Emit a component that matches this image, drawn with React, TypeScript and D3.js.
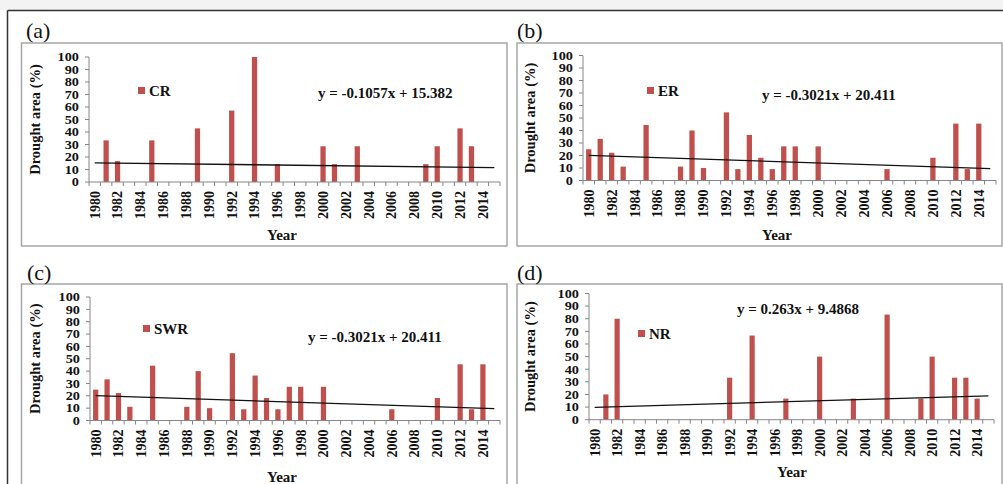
import React from 'react';
import * as d3 from 'd3';

const years = [
  1980, 1981, 1982, 1983, 1984, 1985, 1986, 1987, 1988, 1989, 1990, 1991,
  1992, 1993, 1994, 1995, 1996, 1997, 1998, 1999, 2000, 2001, 2002, 2003,
  2004, 2005, 2006, 2007, 2008, 2009, 2010, 2011, 2012, 2013, 2014, 2015,
];
const yTicks = [0, 10, 20, 30, 40, 50, 60, 70, 80, 90, 100];

// drought area (%) per year, 0 = no drought
const crValues = [
  0, 33.3, 16.7, 0, 0, 33.3, 0, 0, 0, 42.9, 0, 0,
  57.1, 0, 100, 0, 14.3, 0, 0, 0, 28.6, 14.3, 0, 28.6,
  0, 0, 0, 0, 0, 14.3, 28.6, 0, 42.9, 28.6, 0, 0,
];
const erValues = [
  25, 33.3, 22.2, 11.1, 0, 44.4, 0, 0, 11.1, 40, 10, 0,
  54.5, 9.1, 36.4, 18.2, 9.1, 27.3, 27.3, 0, 27.3, 0, 0, 0,
  0, 0, 9.1, 0, 0, 0, 18.2, 0, 45.5, 9.1, 45.5, 0,
];
const swrValues = [
  25, 33.3, 22.2, 11.1, 0, 44.4, 0, 0, 11.1, 40, 10, 0,
  54.5, 9.1, 36.4, 18.2, 9.1, 27.3, 27.3, 0, 27.3, 0, 0, 0,
  0, 0, 9.1, 0, 0, 0, 18.2, 0, 45.5, 9.1, 45.5, 0,
];
const nrValues = [
  0, 20, 80, 0, 0, 0, 0, 0, 0, 0, 0, 0,
  33.3, 0, 66.7, 0, 0, 16.7, 0, 0, 50, 0, 0, 16.7,
  0, 0, 83.3, 0, 0, 16.7, 50, 0, 33.3, 33.3, 16.7, 0,
];

const regionNames = ['CR', 'ER', 'SWR', 'NR'];
const panelTags = ['(a)', '(b)', '(c)', '(d)'];
const trendSlopes = [-0.1057, -0.3021, -0.3021, 0.263];
const trendIntercepts = [15.382, 20.411, 20.411, 9.4868];
const equations = [
  'y = -0.1057x + 15.382',
  'y = -0.3021x + 20.411',
  'y = -0.3021x + 20.411',
  'y = 0.263x + 9.4868',
];
const seriesValues = [crValues, erValues, swrValues, nrValues];

// layout of each panel on the page
const layouts = [
  { box: [21.5, 43, 485.5, 203], tag: [26, 38], plot: [89, 500, 57, 182], legend: [138, 87], eq: [318, 93], yTitleX: 35, year: [282, 240] },
  { box: [517, 43, 485, 203], tag: [517, 38], plot: [583, 996, 55.5, 180.5], legend: [647, 87], eq: [762, 95], yTitleX: 530, year: [777, 240] },
  { box: [21.5, 284, 485.5, 215], tag: [27, 280], plot: [90, 500, 297, 420.5], legend: [143, 325], eq: [308, 337], yTitleX: 35, year: [282, 482] },
  { box: [517, 284, 485, 215], tag: [517, 280], plot: [589, 994, 293.5, 419.7], legend: [638, 330], eq: [737, 309], yTitleX: 530, year: [792, 477] },
];

const barColor = '#c0504d';
const axisColor = '#868686';
const font = '"Liberation Serif", "Times New Roman", serif';

function Panel({ i }: { i: number }) {
  const L = layouts[i];
  const [left, right, top, bottom] = L.plot;
  const x = d3.scaleBand<number>().domain(years).range([left, right]).padding(0);
  const y = d3.scaleLinear().domain([0, 100]).range([bottom, top]);
  const bw = x.bandwidth() * 0.46;
  const cx = (yr: number) => (x(yr) as number) + x.bandwidth() / 2;
  const values = seriesValues[i];

  const trend = d3.line<number>()
    .x((k) => cx(years[k - 1]))
    .y((k) => y(trendSlopes[i] * k + trendIntercepts[i]));

  return (
    <g fontFamily={font}>
      <rect x={L.box[0]} y={L.box[1]} width={L.box[2]} height={L.box[3]} fill="#fff" stroke="#a6a6a6" strokeWidth={1.5} />
      <text x={L.tag[0]} y={L.tag[1]} fontSize={22} fill="#111">{panelTags[i]}</text>

      {values.map((v, k) => v > 0 && (
        <rect key={k} x={cx(years[k]) - bw / 2} y={y(v)} width={bw} height={y(0) - y(v)} fill={barColor} />
      ))}

      {/* y axis */}
      <line x1={left} x2={left} y1={top} y2={bottom} stroke={axisColor} />
      {yTicks.map((t) => (
        <g key={t}>
          <line x1={left - 4} x2={left} y1={y(t)} y2={y(t)} stroke={axisColor} />
          <text transform={`translate(${left - 10},${y(t)}) scale(1.15,1)`} dy="0.35em" textAnchor="end" fontSize={12.4} fontWeight="bold" fill="#111">{t}</text>
        </g>
      ))}

      {/* x axis */}
      <line x1={left} x2={right} y1={bottom} y2={bottom} stroke={axisColor} />
      {years.map((yr) => (
        <line key={yr} x1={x(yr)} x2={x(yr)} y1={bottom} y2={bottom + 4} stroke={axisColor} />
      ))}
      <line x1={right} x2={right} y1={bottom} y2={bottom + 4} stroke={axisColor} />
      {years.filter((yr, k) => k % 2 === 0 && yr < 2015).map((yr) => (
        <text key={yr} transform={`translate(${cx(yr)},${bottom + 9}) rotate(-90)`} dy="0.35em" textAnchor="end" fontSize={14} fontWeight="bold" fill="#111">{yr}</text>
      ))}

      <path d={trend([1, years.length]) || ''} stroke="#111" strokeWidth={1.3} fill="none" />

      <text transform={`translate(${L.yTitleX},${(top + bottom) / 2}) rotate(-90)`} dy="0.35em" textAnchor="middle" fontSize={14.5} fontWeight="bold" fill="#111">Drought area (%)</text>
      <text x={L.year[0]} y={L.year[1]} textAnchor="middle" fontSize={15} fontWeight="bold" fill="#111">Year</text>

      <rect x={L.legend[0]} y={L.legend[1]} width={7} height={7} fill={barColor} />
      <text x={L.legend[0] + 11} y={L.legend[1] + 3.5} dy="0.35em" fontSize={15} fontWeight="bold" fill="#111">{regionNames[i]}</text>
      <text x={L.eq[0]} y={L.eq[1]} dy="0.35em" fontSize={15} fontWeight="bold" fill="#111">{equations[i]}</text>
    </g>
  );
}

export default function App() {
  return (
    <svg width={1003} height={484} style={{ position: 'absolute', left: 0, top: 0, background: '#fff' }}>
      <rect x={0} y={0} width={1003} height={10} fill="#f3f3f3" />
      <line x1={7.5} x2={1003} y1={10.5} y2={10.5} stroke="#333" strokeWidth={1.5} />
      <line x1={7.5} x2={7.5} y1={10.5} y2={484} stroke="#333" strokeWidth={1.5} />
      {[0, 1, 2, 3].map((i) => <Panel key={i} i={i} />)}
    </svg>
  );
}
